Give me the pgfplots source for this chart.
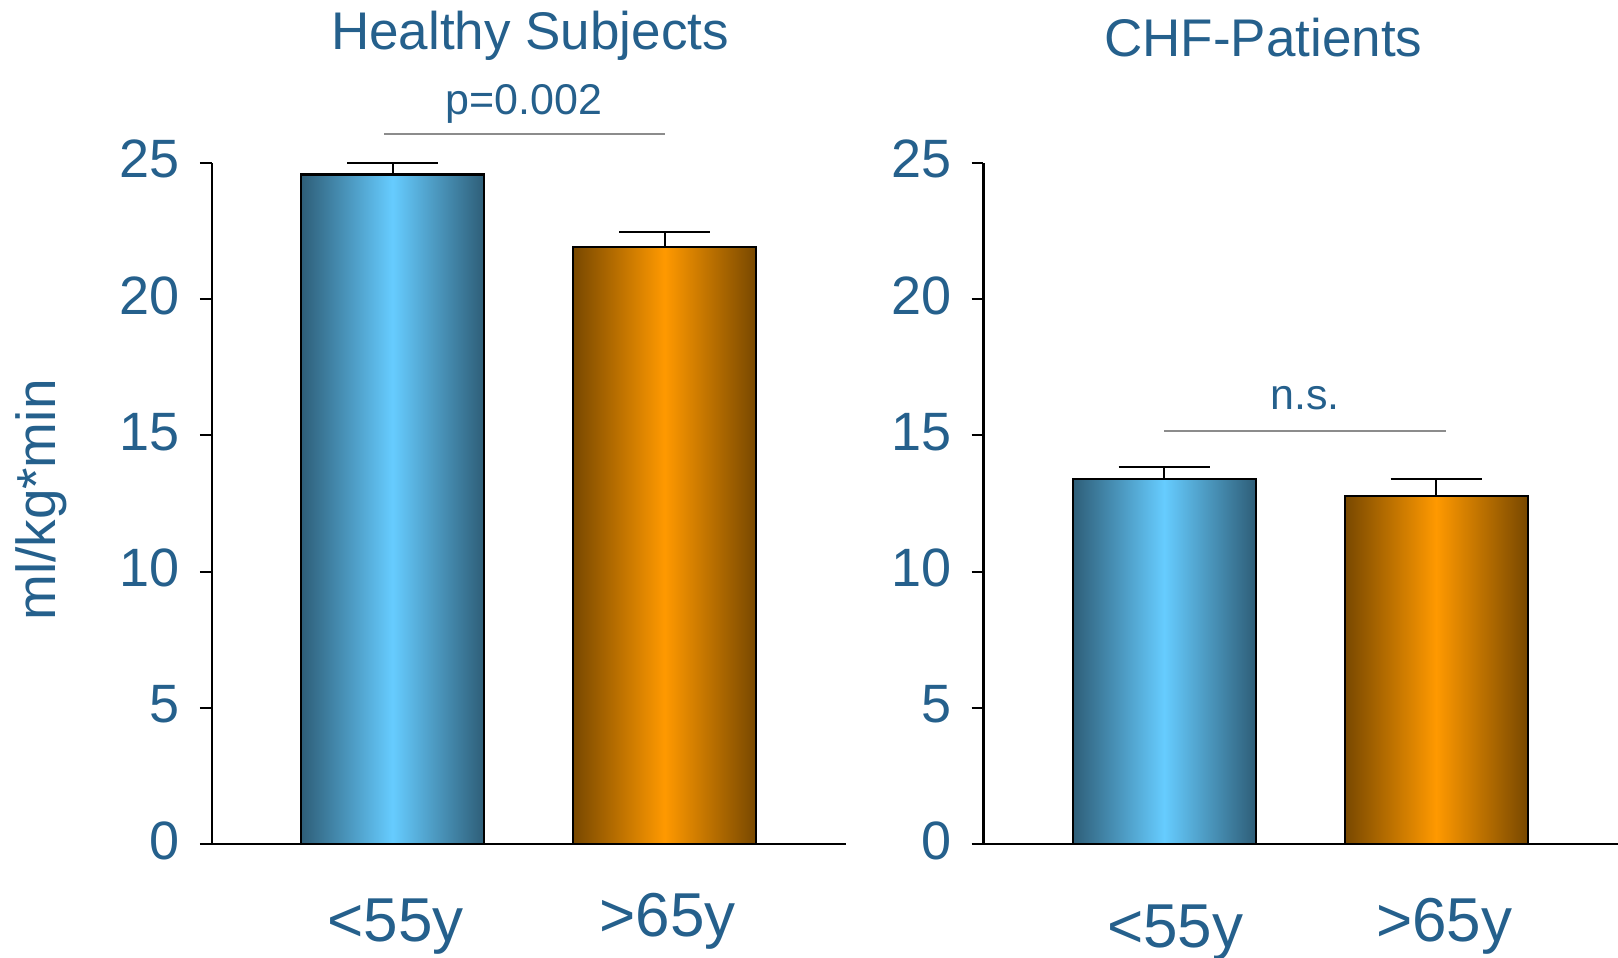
\documentclass[border=0pt]{standalone}
\usepackage{pgfplots}
\pgfplotsset{compat=1.18}
\usepackage{fontspec}
\setmainfont{Liberation Sans}

\definecolor{txt}{RGB}{37,96,140}
\definecolor{bluedark}{RGB}{46,94,120}
\definecolor{bluelight}{RGB}{102,204,255}
\definecolor{orangedark}{RGB}{120,72,0}
\definecolor{orangelight}{RGB}{255,153,0}
\definecolor{sig}{RGB}{140,140,140}

\pgfplotsset{
  every axis title shift=0pt,
  panel/.style={
    scale only axis,
    width=317.15pt, height=340.8pt,
    xmin=0.335, xmax=2.667, ymin=0, ymax=25,
    enlargelimits=false, clip=false,
    axis x line=bottom, axis y line=left,
    axis line style={-, line width=1.2pt, black},
    tick align=outside, major tick length=5.85pt,
    ytick={0,5,10,15,20,25}, ytick pos=left,
    ytick style={line width=1.1pt, black},
    xtick={1,2}, xtick style={draw=none},
    /pgf/number format/assume math mode=true,
    yticklabel style={font=\fontsize{27}{31}\selectfont, text=txt, anchor=east,
      inner sep=0pt, xshift=-10pt, yshift=1.75pt},
    xticklabel style={font=\fontsize{31}{36}\selectfont, text=txt, anchor=base, inner sep=0pt},
    title style={font=\fontsize{26.5}{30}\selectfont, text=txt, anchor=base},
    ybar, bar width=91.5pt, bar shift=0pt,
  },
  blue bar/.style={draw=black, line width=1.1pt, left color=bluedark, right color=bluedark, middle color=bluelight},
  orange bar/.style={draw=black, line width=1.1pt, left color=orangedark, right color=orangedark, middle color=orangelight},
  sem/.style={draw=none, forget plot,
    error bars/.cd, y dir=plus, y explicit, error mark=|,
    error bar style={line width=1pt, black},
    error mark options={line width=1pt, black, mark size=22.75pt}},
}

\begin{document}
\begin{tikzpicture}
\path[use as bounding box] (0,0) rectangle (809pt,479pt);

% Healthy subjects
\begin{axis}[panel, at={(105.85pt,56.85pt)}, anchor=origin,
  xticklabels={\raisebox{-2.5pt}{<55y}, >65y},
  xticklabel style={yshift=-40.35pt, xshift=1.5pt},
  title={Healthy Subjects},
  title style={at={(axis description cs:0.502,1.1661)}},
  ylabel={ml/kg*min},
  ylabel style={at={(axis description cs:-0.247,0.505)}, anchor=base, rotate=0,
    font=\fontsize{27.5}{32}\selectfont, text=txt},
]
\addplot[blue bar] coordinates {(1,24.57)};
\addplot[orange bar] coordinates {(2,21.90)};
\addplot[sem] coordinates {(1,24.57) +- (0,0.43) (2,21.90) +- (0,0.57)};
\draw[sig, line width=1pt] (axis cs:0.969,26.05) -- (axis cs:2.0,26.05);
\node[anchor=base, text=txt, font=\fontsize{21.5}{25}\selectfont] at (axis cs:1.484,26.77) {p=0.002};
\end{axis}

% CHF patients
\begin{axis}[panel, at={(491.65pt,56.85pt)}, anchor=origin,
  xticklabels={\raisebox{-2.9pt}{\hspace*{3pt}<55y}, >65y},
  xticklabel style={yshift=-42.85pt, xshift=4pt},
  title={CHF-Patients},
  title style={at={(axis description cs:0.4414,1.1554)}},
]
\addplot[blue bar] coordinates {(1,13.40)};
\addplot[orange bar] coordinates {(2,12.78)};
\addplot[sem] coordinates {(1,13.40) +- (0,0.45) (2,12.78) +- (0,0.61)};
\draw[sig, line width=1pt] (axis cs:1.0,15.16) -- (axis cs:2.036,15.16);
\node[anchor=base, text=txt, font=\fontsize{21.5}{25}\selectfont] at (axis cs:1.517,15.93) {n.s.};
\end{axis}
\end{tikzpicture}
\end{document}
